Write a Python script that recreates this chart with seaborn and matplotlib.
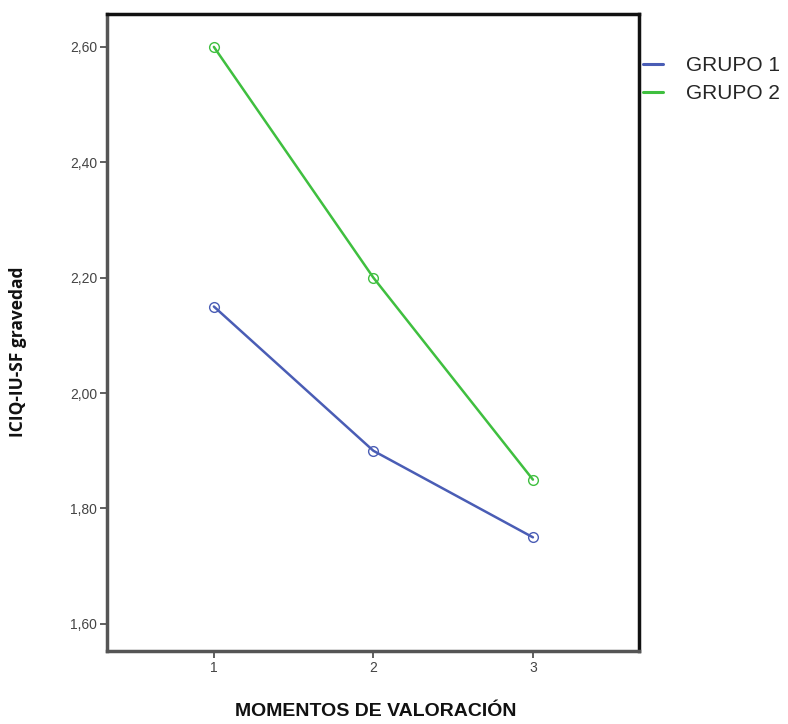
import matplotlib
matplotlib.use("Agg")
import matplotlib.pyplot as plt
import seaborn as sns
import pandas as pd
from matplotlib.lines import Line2D

# Mean severity score per assessment moment, by group
momentos = [1, 2, 3]
grupo1 = [2.15, 1.90, 1.75]
grupo2 = [2.60, 2.20, 1.85]
grupos = ["GRUPO 1", "GRUPO 2"]
colores = ["#4a5db5", "#3fbf3f"]
yticks = [1.60, 1.80, 2.00, 2.20, 2.40, 2.60]

df = pd.DataFrame({
    "momento": momentos * 2,
    "valor": grupo1 + grupo2,
    "grupo": [grupos[0]] * 3 + [grupos[1]] * 3,
})

sns.set_style("white")
fig = plt.figure(figsize=(7.88, 7.24), dpi=100)
ax = fig.add_axes([107 / 788, 1 - 651 / 724, (639 - 107) / 788, (651 - 14) / 724])

sns.lineplot(data=df, x="momento", y="valor", hue="grupo",
             palette=dict(zip(grupos, colores)), marker="o",
             markersize=7, markerfacecolor="none", markeredgewidth=1.0,
             linewidth=1.8, legend=False, ax=ax)
for ln, c in zip(ax.lines, colores):
    ln.set_markeredgecolor(c)

ax.set_xlim(0.33, 3.665)
ax.set_ylim(1.553, 2.657)
ax.set_xticks(momentos)
ax.set_xticklabels([str(m) for m in momentos])
ax.set_yticks(yticks)
ax.set_yticklabels([f"{v:.2f}".replace(".", ",") for v in yticks])
ax.tick_params(axis="both", direction="out", length=5, width=1.2,
               color="#444444", labelsize=10, labelcolor="#444444", pad=2)
ax.tick_params(axis="x", bottom=True)
ax.tick_params(axis="y", left=True)
for lbl in ax.get_xticklabels() + ax.get_yticklabels():
    lbl.set_family("Liberation Sans")

for side in ["left", "bottom"]:
    ax.spines[side].set_color("#555555")
    ax.spines[side].set_linewidth(2.5)
for side in ["top", "right"]:
    ax.spines[side].set_color("#111111")
    ax.spines[side].set_linewidth(2.5)

ax.set_xlabel("")
ax.set_ylabel("")
fig.text(376 / 788, 1 - 711 / 724, "MOMENTOS DE VALORACIÓN", ha="center",
         va="center", fontsize=14, fontweight="bold",
         family="Liberation Sans", color="#111111")
fig.text(18 / 788, 1 - 352 / 724, "ICIQ-IU-SF gravedad", ha="center",
         va="center", rotation=90, fontsize=12.5, fontweight="bold",
         family="Open Sans", color="#111111")

handles = [Line2D([], [], color=c, linewidth=2.2) for c in colores]
fig.legend(handles, grupos, loc="upper left", bbox_to_anchor=(643 / 788, 1 - 56 / 724),
           frameon=False, borderpad=0, borderaxespad=0, handlelength=0.95,
           handletextpad=1.1, labelspacing=0.45,
           prop={"family": "Liberation Sans", "size": 15})

fig.savefig("out.png", dpi=100, facecolor="white")
